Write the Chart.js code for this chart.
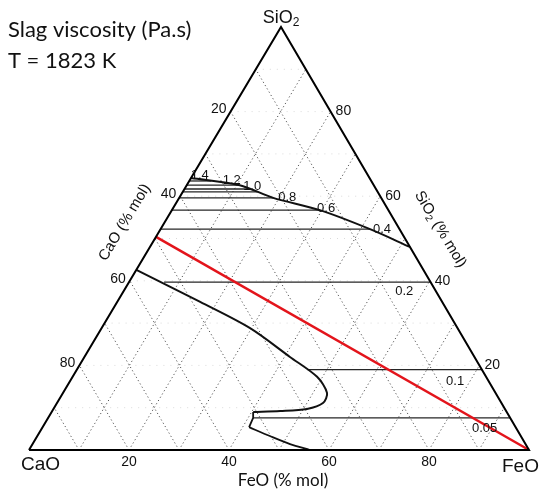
<!DOCTYPE html>
<html>
<head>
<meta charset="utf-8">
<title>Slag viscosity</title>
<script src="https://cdn.jsdelivr.net/npm/chart.js@4.4.0/dist/chart.umd.min.js"></script>
<style>
  body { margin: 0; background: #fff; }
  canvas { display: block; }
</style>
</head>
<body>
<canvas id="ternary" width="539" height="492"></canvas>
<script>
// compositions are [FeO %, SiO2 %], CaO is the rest
const gridSteps = [10, 20, 30, 40, 50, 60, 70, 80, 90];
const tickValues = [20, 40, 60, 80];

// upper boundary (high silica side)
const upperBoundary = [[0, 64.3], [10.6, 62.6], [18.8, 59.6], [29.6, 56.7], [41.9, 52.2], [52, 48]];
const upperIsoSiO2 = [63.6, 62.6, 61.7, 61.0, 59.6, 56.7, 52.2];
const upperIsoFeOEnd = [4.4, 10.6, 13.1, 15.0, 18.8, 29.6, 41.9];

// lower boundary (lime side) and the small pocket near the base
const lowerBoundary = [[0, 42.6], [16.6, 35.0], [29.7, 28.8], [41.1, 22.0], [48.9, 17.3], [52.8, 13.5], [53.2, 11.1], [50.7, 9.7], [45.6, 9.2], [40.3, 9.0]];
const pocketEdge = [[40.3, 9.0], [41.0, 7.6], [41.3, 5.4]];
const pocketCurve = [[41.3, 5.4], [46.5, 3.3], [51.5, 1.4], [56.2, 0]];
const lowerIsoSiO2 = [39.7, 19.0, 7.6];
const lowerIsoFeOStart = [7.0, 46.1, 41.0];

// red composition line
const redLine = [[0, 50.4], [100, 0]];

// viscosity labels
const isoLabels = ['1.4', '1.2', '1.0', '0.8', '0.6', '0.4', '0.2', '0.1', '0.05'];
const isoLabelPos = [[1.4, 65.0], [8.4, 63.8], [13.2, 62.4], [21.5, 59.8], [30.6, 57.2], [44.3, 52.2], [56.2, 37.4], [77, 16.3], [88.6, 5.0]];

const SKEW = 0.504;

function tern(feo, sio2) {
    return { x: (feo + SKEW * sio2) / 100, y: sio2 / 100 };
}

function path(points) {
    return points.map(p => tern(p[0], p[1]));
}

function ligne(points, color, width, extra) {
    return Object.assign({
        data: path(points),
        showLine: true,
        borderColor: color,
        borderWidth: width,
        pointRadius: 0,
        fill: false,
        clip: false,
        tension: 0
    }, extra || {});
}

const datasets = [];

// dotted grid, three families
gridSteps.forEach(v => {
    datasets.push(ligne([[v, 0], [v, 100 - v]], '#555', 1, { borderDash: [1.2, 2.6], order: 9 }));
    datasets.push(ligne([[100 - v, 0], [0, 100 - v]], '#555', 1, { borderDash: [1.2, 2.6], order: 9 }));
    datasets.push(ligne([[0, v], [100 - v, v]], '#dadada', 1, { borderDash: [1, 6], order: 10 }));
});

// iso-viscosity lines
upperIsoSiO2.forEach((s, i) => {
    datasets.push(ligne([[0, s], [upperIsoFeOEnd[i], s]], '#262626', 1.3, { order: 4 }));
});
lowerIsoSiO2.forEach((s, i) => {
    datasets.push(ligne([[lowerIsoFeOStart[i], s], [100 - s, s]], '#262626', 1.3, { order: 4 }));
});

// boundaries
datasets.push(ligne(upperBoundary, '#111', 2, { tension: 0.3, order: 3 }));
datasets.push(ligne(lowerBoundary, '#111', 2, { tension: 0.3, order: 3 }));
datasets.push(ligne(pocketEdge, '#111', 1.8, { order: 3 }));
datasets.push(ligne(pocketCurve, '#111', 1.8, { tension: 0.3, order: 3 }));

// red line
datasets.push(ligne(redLine, '#e3141b', 2.5, { order: 1 }));

// triangle frame
datasets.push(ligne([[0, 0], [100, 0], [0, 100], [0, 0]], '#000', 2, { order: 0 }));

function drawRuns(ctx, runs, x, y, align) {
    let total = 0;
    runs.forEach(r => { ctx.font = r.font; total += ctx.measureText(r.t).width; });
    let cx = align === 'center' ? x - total / 2 : x;
    ctx.textAlign = 'left';
    runs.forEach(r => {
        ctx.font = r.font;
        ctx.fillText(r.t, cx, y + (r.dy || 0));
        cx += ctx.measureText(r.t).width;
    });
}

const labelsPlugin = {
    id: 'ternaryLabels',
    afterDatasetsDraw(chart) {
        const ctx = chart.ctx;
        const sx = chart.scales.x, sy = chart.scales.y;
        const px = (f, s) => {
            const p = tern(f, s);
            return [sx.getPixelForValue(p.x), sy.getPixelForValue(p.y)];
        };
        ctx.save();
        ctx.fillStyle = '#111';
        ctx.textBaseline = 'alphabetic';

        // title
        ctx.font = '22px Lato';
        ctx.textAlign = 'left';
        ctx.fillText('Slag viscosity (Pa.s)', 8, 37, 211);
        ctx.fillText('T = 1823 K', 8, 68, 116);

        // viscosity labels
        ctx.font = '13px "Liberation Sans", Arial';
        ctx.textAlign = 'center';
        ctx.textBaseline = 'middle';
        isoLabels.forEach((t, i) => {
            const p = px(isoLabelPos[i][0], isoLabelPos[i][1]);
            ctx.fillText(t, p[0], p[1]);
        });

        // ticks
        ctx.font = '14px "Liberation Sans", Arial';
        tickValues.forEach(v => {
            let p = px(v, 0);                 // FeO on base
            ctx.textAlign = 'center';
            ctx.fillText(String(v), p[0], p[1] + 12);
            p = px(0, 100 - v);               // CaO on left edge
            ctx.textAlign = 'right';
            ctx.fillText(String(v), p[0] - 4, p[1] - 2);
            p = px(100 - v, v);               // SiO2 on right edge
            ctx.textAlign = 'left';
            ctx.fillText(String(v), p[0] + 5, p[1]);
        });

        // corners
        ctx.textBaseline = 'alphabetic';
        ctx.font = '19px "Liberation Sans", Arial';
        ctx.textAlign = 'left';
        ctx.fillText('CaO', 21, 470);
        ctx.fillText('FeO', 502, 472);
        drawRuns(ctx, [
            { t: 'SiO', font: '18px "Liberation Sans", Arial' },
            { t: '2', font: '12px "Liberation Sans", Arial', dy: 3 }
        ], 281, 23, 'center');

        // axis titles
        ctx.font = '17px Lato';
        ctx.textAlign = 'center';
        ctx.fillText('FeO (% mol)', 283, 486);

        ctx.save();
        ctx.translate(124, 222);
        ctx.rotate(-59 * Math.PI / 180);
        ctx.font = '15px "Liberation Sans", Arial';
        ctx.textAlign = 'center';
        ctx.fillText('CaO (% mol)', 0, 5);
        ctx.restore();

        ctx.save();
        ctx.translate(441, 229);
        ctx.rotate(59 * Math.PI / 180);
        drawRuns(ctx, [
            { t: 'SiO', font: '15px "Liberation Sans", Arial' },
            { t: '2', font: '10px "Liberation Sans", Arial', dy: 3 },
            { t: ' (% mol)', font: '15px "Liberation Sans", Arial' }
        ], 0, 5, 'center');
        ctx.restore();

        ctx.restore();
    }
};

new Chart(document.getElementById('ternary').getContext('2d'), {
    type: 'scatter',
    data: { datasets: datasets },
    options: {
        responsive: false,
        animation: false,
        events: [],
        layout: { padding: { left: 29, right: 10, top: 27, bottom: 42 } },
        plugins: {
            legend: { display: false },
            tooltip: { enabled: false }
        },
        scales: {
            x: { type: 'linear', min: 0, max: 1, display: false },
            y: { type: 'linear', min: 0, max: 1, display: false }
        }
    },
    plugins: [labelsPlugin]
});
</script>
</body>
</html>
